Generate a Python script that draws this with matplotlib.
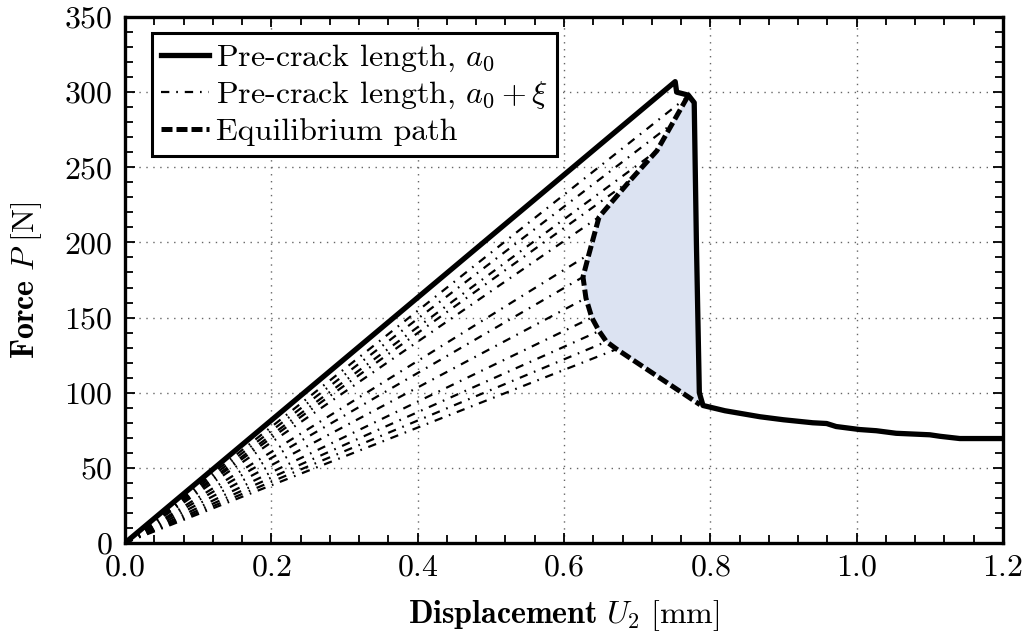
import matplotlib
matplotlib.use("Agg")
import matplotlib.pyplot as plt
from matplotlib.ticker import MultipleLocator

plt.rcParams['font.family'] = 'cmr10'
plt.rcParams['mathtext.fontset'] = 'cm'
plt.rcParams['axes.formatter.use_mathtext'] = True
plt.rcParams['font.size'] = 23

# load-displacement curve for the initial crack length a0
main_u = [0.0, 0.752, 0.754, 0.770, 0.778, 0.781, 0.785, 0.790, 0.82, 0.868,
          0.90, 0.94, 0.959, 0.972, 1.004, 1.027, 1.054, 1.10, 1.114, 1.141, 1.17, 1.2]
main_p = [0.0, 307, 300, 298, 293, 200, 100, 91.5, 88, 84,
          82, 80, 79.5, 77.5, 75.5, 74.7, 73, 72, 71, 69.5, 69.5, 69.5]

# equilibrium path; each point except the last is the peak of an a0 + xi curve
eq_u = [0.769, 0.748, 0.727, 0.690, 0.648, 0.634, 0.626, 0.630, 0.638, 0.648, 0.658, 0.672, 0.786]
eq_p = [297, 279, 261, 241, 217, 192, 177, 163, 150, 141, 134, 129, 92]

dashdot = (0, (3.75, 3.1, 0.75, 3.1))

fig = plt.figure(figsize=(10.27, 6.35), dpi=100)
ax = fig.add_axes([0.1217, 0.1449, 0.8549, 0.8283])

# shaded region between the equilibrium path and the unloading branch
fill_u = eq_u + main_u[6:2:-1]
fill_p = eq_p + main_p[6:2:-1]
ax.fill(fill_u, fill_p, color='#dce3f2', lw=0, zorder=1)

for u, p in zip(eq_u[:-1], eq_p[:-1]):
    ax.plot([0, u], [0, p], color='k', lw=1.6, ls=dashdot, zorder=2)

ax.plot(main_u, main_p, color='k', lw=3.8, solid_joinstyle='round', zorder=4,
        label=r'Pre-crack length, $a_0$')
ax.plot([], [], color='k', lw=1.6, ls=dashdot,
        label=r'Pre-crack length, $a_0+\xi$')
ax.plot(eq_u, eq_p, color='k', lw=3.6, ls=(0, (2.2, 0.8)), zorder=3,
        label='Equilibrium path')

ax.set_xlim(0, 1.2)
ax.set_ylim(0, 350)
ax.xaxis.set_major_locator(MultipleLocator(0.2))
ax.xaxis.set_minor_locator(MultipleLocator(0.04))
ax.yaxis.set_major_locator(MultipleLocator(50))
ax.yaxis.set_minor_locator(MultipleLocator(10))
ax.tick_params(which='both', direction='in', top=True, right=True, width=1.3)
ax.tick_params(which='major', length=7)
ax.tick_params(which='minor', length=6)
ax.tick_params(axis='x', pad=8)
ax.tick_params(axis='y', pad=9)
for s in ax.spines.values():
    s.set_linewidth(2.4)
ax.grid(True, which='major', ls=(0, (1, 4)), lw=1.0, color='0.4')
ax.set_axisbelow(True)

ax.set_xlabel(r'$\mathbf{Displacement}\ U_2\ \mathrm{[mm]}$', labelpad=12)
ax.set_ylabel(r'$\mathbf{Force}\ P\ \mathrm{[N]}$', labelpad=14)

leg = ax.legend(loc='upper left', bbox_to_anchor=(0.0304, 0.9696), borderaxespad=0,
                fancybox=False, edgecolor='k', framealpha=1, handlelength=1.5,
                handletextpad=0.2, labelspacing=0.2, borderpad=0.3)
leg.get_frame().set_linewidth(2.2)

fig.savefig('out.png', dpi=100)
